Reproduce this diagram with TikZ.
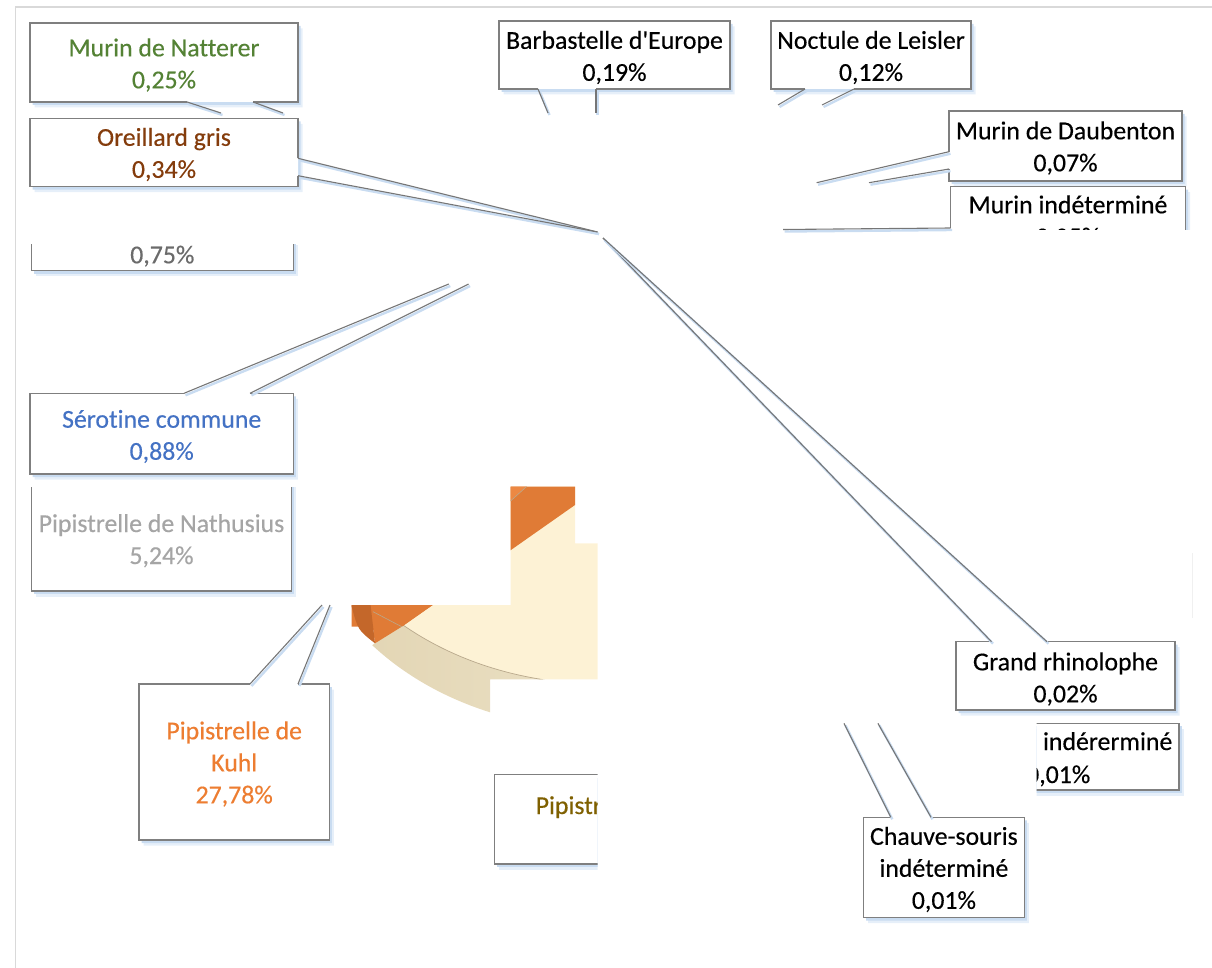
\documentclass[tikz,border=0pt]{standalone}
\usepackage{fontspec}
\setmainfont{Carlito}[Ligatures={NoCommon}, FakeBold=0.35]
\usetikzlibrary{shadows}
\definecolor{bord}{HTML}{7F7F7F}
\definecolor{lead}{HTML}{767676}
\definecolor{shb1}{HTML}{C9DCF1}
\definecolor{shb2}{HTML}{E6EFF9}
\definecolor{framec}{HTML}{D9D9D9}
\definecolor{faint}{HTML}{F0F0F0}
\definecolor{cgreen}{HTML}{548235}
\definecolor{cbrown}{HTML}{843C0C}
\definecolor{cgray}{HTML}{6B6B6B}
\definecolor{cblue}{HTML}{4472C4}
\definecolor{clgray}{HTML}{A5A5A5}
\definecolor{corange}{HTML}{ED7D31}
\definecolor{colive}{HTML}{7F6000}
\definecolor{creamtop}{HTML}{FDF2D5}
\definecolor{creamsideL}{HTML}{E3D6B5}
\definecolor{creamsideR}{HTML}{F0E7CE}
\definecolor{otop}{HTML}{E07B36}
\definecolor{olight}{HTML}{EC8843}
\definecolor{odark}{HTML}{C4672A}
\definecolor{rimc}{HTML}{B9A98C}
\newcommand\lblfont{\fontsize{25.8}{32}\selectfont}
\begin{document}
\begin{tikzpicture}[x=1pt,y=-1pt,
  bx/.style={draw=bord, line width=1.3pt, fill=white,
    drop shadow={shadow xshift=4.5pt,shadow yshift=-5.5pt,fill=shb2,opacity=1},
    drop shadow={shadow xshift=2.5pt,shadow yshift=-3pt,fill=shb1,opacity=1}},
  ld/.style={draw=lead, line width=1.1pt,
    preaction={draw=shb1, line width=2.4pt, transform canvas={shift={(1.5pt,-2pt)}}}},
  lbl/.style={font=\lblfont, align=center, inner sep=0pt},
]
\useasboundingbox (0,0) rectangle (1212,968);

% frame
\draw[framec, line width=1.3pt] (15.7,968) -- (15.7,7) -- (1212,7);
\draw[faint, line width=1pt] (1192.7,553) -- (1192.7,618);

% ---------- pie fragments ----------
\begin{scope}
\clip (510.7,486.7) rectangle (575,543.3)
      (510.7,543.3) rectangle (597.7,679.3)
      (351.7,605) rectangle (510.7,679.3)
      (351.7,679.3) rectangle (490,720);
\fill[creamtop] (600,444) ellipse [x radius=300, y radius=240];
\shade[left color=creamsideL, right color=creamsideR]
  ([shift={(600,444)}]131.4:300 and 240) arc[start angle=131.4, end angle=60, x radius=300, y radius=240]
  -- ++(0,45) arc[start angle=60, end angle=139.4, x radius=300, y radius=240] -- cycle;
\draw[rimc, line width=0.7pt] ([shift={(600,444)}]131.4:300 and 240) arc[start angle=131.4, end angle=60, x radius=300, y radius=240];
\fill[otop] (660,445.3) -- (401.7,626.7) -- (350,626.7) -- (350,440) -- cycle;
\fill[olight] (505,506) -- (535,479) -- (505,479) -- cycle;
\draw[rimc, line width=0.6pt] (505,506) -- (535,479);
\fill[otop] (370,605) -- (432.6,605) -- (401.7,626.7) -- (375,643.3) -- cycle;
\fill[odark] (345,600) -- (370,600) -- (375,643.3) .. controls (358,630) .. (351.7,606.7) -- (345,606.7) -- cycle;
\draw[rimc, line width=0.6pt] (373,611.7) -- (401.7,626.7);
\end{scope}

% ---------- Murin de Natterer ----------
\path[bx] (187,102) -- (30,102) -- (30,23) -- (298,23) -- (298,102) -- (253,102);
\draw[ld] (187,102) -- (221,113);
\draw[ld] (253,102) -- (283,113);
\node[lbl, text=cgreen] (nat) at (164,65) {Murin de Natterer\\0,25\%};

% ---------- Oreillard gris ----------
\coordinate (tipA) at (597.5,232);
\path[bx] (298,158.3) -- (298,118.3) -- (30,118.3) -- (30,186.7) -- (298,186.7) -- (298,175.7);
\draw[ld] (298,158.3) -- (tipA);
\draw[ld] (298,175.7) -- (tipA);
\node[lbl, text=cbrown] (ore) at (164,154.5) {Oreillard gris\\0,34\%};

% ---------- Barbastelle ----------
\path[bx] (538,89) -- (499,89) -- (499,21) -- (730,21) -- (730,89) -- (596,89);
\draw[ld] (538,89) -- (548,113);
\draw[ld] (596,89) -- (596,113);
\node[lbl] (bar) at (614.5,57.5) {Barbastelle d\textquotesingle Europe\\0,19\%};

% ---------- Noctule de Leisler ----------
\path[bx] (805,89) -- (771,89) -- (771,21) -- (971,21) -- (971,89) -- (854,89);
\draw[ld] (805,89) -- (778,105);
\draw[ld] (854,89) -- (822,105);
\node[lbl] (noc) at (871,57.5) {Noctule de Leisler\\0,12\%};

% ---------- Murin de Daubenton ----------
\path[bx] (949,151.7) -- (949,111) -- (1182,111) -- (1182,181) -- (949,181) -- (949,169);
\draw[ld] (949,151.7) -- (816.6,182.7);
\draw[ld] (949,169) -- (869,182.7);
\node[lbl] (dau) at (1065.5,148) {Murin de Daubenton\\0,07\%};

% ---------- Murin indetermine ----------
\begin{scope}
\clip (900,150) rectangle (1212,229.8);
\path[bx] (950.5,228) -- (950.5,186.7) -- (1185.5,186.7) -- (1185.5,240) -- (950.5,240);
\node[lbl, anchor=base] (mind) at (1068,213.3) {Murin indéterminé};
\node[lbl, anchor=base] (mindp) at (1068,245.3) {0,05\%};
\end{scope}
\draw[ld] (950.5,228) -- (783,229.5);

% ---------- 0,75% ----------
\begin{scope}
\clip (0,245) rectangle (400,300);
\path[bx] (31.2,240) -- (31.2,270.7) -- (293.4,270.7) -- (293.4,240);
\node[lbl, anchor=base, text=cgray] (p75) at (162.3,263.3) {0,75\%};
\end{scope}

% ---------- Serotine commune ----------
\path[bx] (184,393.3) -- (30,393.3) -- (30,474) -- (293.4,474) -- (293.4,393.3) -- (250,393.3);
\draw[ld] (184,393.3) -- (448.8,284);
\draw[ld] (250,393.3) -- (468.6,284);
\node[lbl, text=cblue] (ser) at (161.7,436.5) {Sérotine commune\\0,88\%};

% ---------- Pipistrelle de Nathusius ----------
\begin{scope}
\clip (0,487.3) rectangle (400,620);
\path[bx] (31.2,480) -- (31.2,591) -- (291.8,591) -- (291.8,480);
\end{scope}
\node[lbl, anchor=base, text=clgray] (nat1) at (161.5,532) {Pipistrelle de Nathusius};
\node[lbl, anchor=base, text=clgray] (nat2) at (161.5,564) {5,24\%};

% ---------- Pipistrelle de Kuhl ----------
\path[bx] (250,684) -- (139,684) -- (139,840) -- (329.3,840) -- (329.3,684) -- (298,684);
\draw[ld] (250,684) -- (322,605);
\draw[ld] (298,684) -- (330,605);
\node[lbl, text=corange] (kuhl) at (234.2,764) {Pipistrelle de\\Kuhl\\27,78\%};

% ---------- Pipistr... ----------
\begin{scope}
\clip (400,700) rectangle (597.7,900);
\path[bx] (610,774.7) -- (494.7,774.7) -- (494.7,864) -- (610,864);
\node[lbl, anchor=base west, text=colive] (pcom) at (535.5,814) {Pipistr};
\end{scope}

% ---------- Grand rhinolophe ----------
\coordinate (tipB) at (603,238);
\path[bx] (991.5,641.7) -- (956,641.7) -- (956,710) -- (1175,710) -- (1175,641.7) -- (1047,641.7);
\draw[ld] (991.5,641.7) -- (tipB);
\draw[ld] (1047,641.7) -- (tipB);
\node[lbl] (grh) at (1065.5,679) {Grand rhinolophe\\0,02\%};

% ---------- ... inderermine ----------
\begin{scope}
\clip (1036.7,700) rectangle (1212,820);
\path[bx] (1020,723.3) -- (1179,723.3) -- (1179,790) -- (1020,790);
\node[lbl, anchor=base east] (rin1) at (1172.5,750) {indérerminé};
\node[lbl, anchor=base east] (rin2) at (1090.5,783) {0,01\%};
\end{scope}

% ---------- Chauve-souris ----------
\path[bx] (890.8,817.3) -- (863.5,817.3) -- (863.5,917.7) -- (1024.3,917.7) -- (1024.3,817.3) -- (931,817.3);
\draw[ld] (890.8,817.3) -- (844,723.3);
\draw[ld] (931,817.3) -- (877.9,723.3);
\node[lbl] (chs) at (943.9,869.5) {Chauve-souris\\indéterminé\\0,01\%};
\end{tikzpicture}
\end{document}
